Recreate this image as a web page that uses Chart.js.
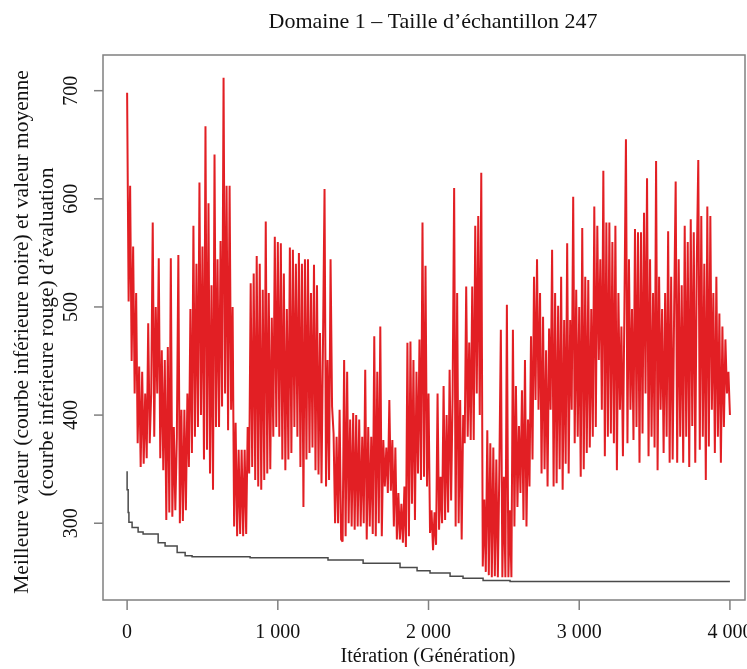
<!DOCTYPE html>
<html>
<head>
<meta charset="utf-8">
<script src="https://cdn.jsdelivr.net/npm/chart.js@4/dist/chart.umd.min.js"></script>
<style>
  body { margin: 0; background: #fff; }
  #wrap { width: 747px; height: 669px; }
</style>
</head>
<body>
<div id="wrap"><canvas id="chart" width="747" height="669"></canvas></div>
<script>
// texts
const titleText = 'Domaine 1 \u2013 Taille d\u2019\u00e9chantillon 247';
const xTitle = 'It\u00e9ration (G\u00e9n\u00e9ration)';
const yTitleLines = [
    'Meilleure valeur (courbe inf\u00e9rieure noire) et valeur moyenne',
    '(courbe inf\u00e9rieure rouge) d\u2019\u00e9valuation'
];

// axis ticks
const xTicks = [0, 1000, 2000, 3000, 4000];
const xTickLabels = ['0', '1 000', '2 000', '3 000', '4 000'];
const yTicks = [300, 400, 500, 600, 700];

// best value (black curve), change points
const bestIter = [0, 7, 12, 33, 73, 106, 206, 252, 332, 385, 431, 816, 1333, 1566, 1811, 1924, 2010, 2143, 2229, 2362, 2541, 2693, 4000];
const bestValue = [348, 331, 310, 301, 296, 292, 290, 282, 279, 273, 270, 269, 268, 266, 263, 259, 256, 254, 251, 249, 247, 246, 246];

// mean value (red curve), one reading every 10 iterations
const meanStep = 10;
const meanValue = [
    698, 505, 612, 450, 556, 420, 513, 374, 445, 352,
    440, 355, 420, 360, 485, 374, 420, 578, 380, 500,
    420, 545, 360, 460, 349, 451, 303, 463, 310, 545,
    306, 389, 312, 380, 548, 300, 405, 302, 405, 312,
    420, 352, 498, 365, 575, 380, 540, 389, 615, 400,
    556, 359, 667, 368, 596, 346, 520, 331, 641, 389,
    544, 389, 561, 408, 712, 420, 612, 386, 612, 405,
    500, 297, 393, 288, 368, 290, 368, 288, 368, 290,
    389, 346, 522, 352, 531, 340, 547, 334, 540, 331,
    516, 340, 579, 346, 513, 350, 490, 380, 565, 389,
    560, 380, 559, 359, 531, 349, 498, 359, 555, 365,
    553, 389, 540, 380, 550, 352, 540, 315, 544, 359,
    544, 365, 513, 370, 539, 349, 520, 345, 476, 337,
    470, 609, 334, 451, 340, 544, 408, 383, 300, 380,
    300, 405, 285, 283, 451, 288, 440, 300, 396, 297,
    402, 294, 400, 297, 396, 297, 380, 300, 442, 285,
    389, 297, 380, 290, 473, 288, 440, 300, 482, 288,
    377, 334, 370, 328, 414, 330, 377, 297, 370, 285,
    328, 285, 318, 282, 334, 278, 467, 288, 468, 318,
    451, 303, 440, 346, 470, 340, 578, 343, 538, 334,
    420, 291, 312, 275, 310, 280, 420, 294, 343, 300,
    427, 303, 400, 310, 442, 321, 420, 610, 297, 513,
    300, 414, 285, 400, 374, 519, 380, 467, 377, 519,
    377, 575, 420, 584, 400, 624, 260, 322, 255, 386,
    252, 374, 250, 370, 251, 359, 250, 350, 479, 250,
    343, 250, 502, 250, 312, 250, 479, 297, 427, 315,
    390, 328, 423, 303, 451, 297, 396, 334, 473, 359,
    528, 414, 544, 405, 513, 346, 491, 350, 460, 334,
    480, 405, 553, 334, 513, 337, 501, 350, 528, 331,
    488, 355, 559, 346, 488, 405, 602, 374, 516, 380,
    500, 343, 573, 350, 528, 365, 525, 370, 498, 380,
    593, 389, 575, 451, 544, 405, 626, 362, 578, 380,
    578, 383, 560, 374, 575, 349, 513, 405, 482, 362,
    501, 655, 374, 544, 405, 498, 377, 572, 389, 569,
    356, 569, 383, 587, 420, 619, 362, 544, 380, 513,
    370, 635, 349, 528, 405, 498, 365, 513, 380, 570,
    356, 528, 359, 500, 616, 356, 544, 380, 520, 356,
    575, 380, 560, 352, 581, 390, 569, 356, 540, 636,
    368, 584, 380, 540, 340, 593, 371, 584, 405, 513,
    365, 528, 380, 494, 356, 482, 389, 470, 420, 440,
    400
];

const serif = '"Liberation Serif", "DejaVu Serif", serif';

// draws the box, ticks and all the texts the R-style way
const frame = {
    id: 'frame',
    afterDraw(chart) {
        const { ctx, chartArea: a, scales: { x, y } } = chart;
        ctx.save();
        ctx.strokeStyle = '#808080';
        ctx.lineWidth = 1.5;
        ctx.strokeRect(a.left, a.top, a.right - a.left, a.bottom - a.top);

        ctx.fillStyle = '#111';
        ctx.font = '20px ' + serif;
        ctx.textAlign = 'center';
        ctx.textBaseline = 'middle';
        xTicks.forEach((v, i) => {
            const px = x.getPixelForValue(v);
            ctx.beginPath();
            ctx.moveTo(px, a.bottom);
            ctx.lineTo(px, a.bottom + 10);
            ctx.stroke();
            ctx.fillText(xTickLabels[i], px, 633);
        });
        yTicks.forEach(v => {
            const py = y.getPixelForValue(v);
            ctx.beginPath();
            ctx.moveTo(a.left - 9, py);
            ctx.lineTo(a.left, py);
            ctx.stroke();
            ctx.save();
            ctx.translate(72, py);
            ctx.rotate(-Math.PI / 2);
            ctx.fillText(String(v), 0, 0);
            ctx.restore();
        });

        ctx.fillText(xTitle, 428, 657);

        ctx.font = '21.5px ' + serif;
        ctx.save();
        ctx.translate(22, 332);
        ctx.rotate(-Math.PI / 2);
        ctx.fillText(yTitleLines[0], 0, 0);
        ctx.fillText(yTitleLines[1], 0, 25);
        ctx.restore();

        ctx.font = '22px ' + serif;
        ctx.fillText(titleText, 433, 22);
        ctx.restore();
    }
};

const ctx = document.getElementById('chart').getContext('2d');
new Chart(ctx, {
    type: 'line',
    data: {
        datasets: [
            {
                label: 'Meilleure valeur',
                data: bestIter.map((it, i) => ({ x: it, y: bestValue[i] })),
                borderColor: '#4a4a4a',
                borderWidth: 1.5,
                stepped: 'after',
                pointRadius: 0,
                order: 0
            },
            {
                label: 'Valeur moyenne',
                data: meanValue.map((v, i) => ({ x: i * meanStep, y: v })),
                borderColor: 'rgba(222, 0, 6, 0.88)',
                borderWidth: 2,
                borderJoinStyle: 'bevel',
                pointRadius: 0,
                tension: 0,
                order: 1
            }
        ]
    },
    options: {
        responsive: false,
        animation: false,
        devicePixelRatio: 1,
        layout: { padding: { left: 103, right: 2, top: 55, bottom: 69 } },
        plugins: {
            legend: { display: false },
            title: { display: false },
            tooltip: { enabled: false }
        },
        scales: {
            x: { type: 'linear', min: -160, max: 4100, display: false },
            y: { type: 'linear', min: 229, max: 733, display: false }
        }
    },
    plugins: [frame]
});
</script>
</body>
</html>
